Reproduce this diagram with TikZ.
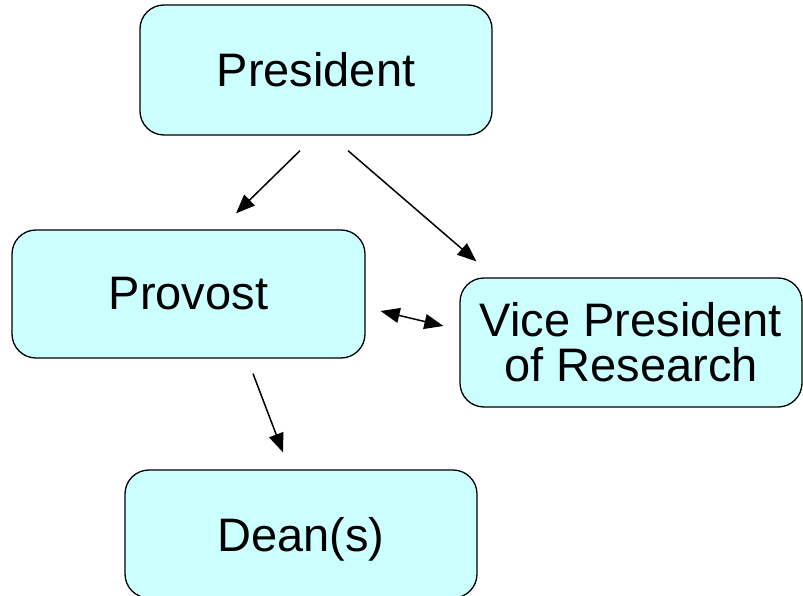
\documentclass[tikz,border=0pt]{standalone}
\usepackage{fontspec}
\setmainfont{Liberation Sans}
\usetikzlibrary{arrows.meta,calc}
\definecolor{boxfill}{HTML}{CCFFFF}
\tikzset{
  orgbox/.style={draw=black, line width=1.3pt, fill=boxfill,
    rounded corners=24pt, inner sep=0pt, align=center,
    font=\fontsize{47}{45}\selectfont},
  headtip/.tip={Triangle[length=19pt,width=15pt]},
  link/.style={line width=1.5pt, -headtip},
  twoway/.style={line width=1.5pt, headtip-headtip}
}
\begin{document}
\begin{tikzpicture}[x=1pt,y=-1pt]
  \useasboundingbox (0,0) rectangle (803,596);
  \begin{scope}
    \clip (0,0) rectangle (803,596);
    \node[orgbox, minimum width=352pt, minimum height=130pt] (pres) at (316,70) {President};
    \node[orgbox, minimum width=353pt, minimum height=128pt] (prov) at (188.5,294) {Provost};
    \node[orgbox, minimum width=342pt, minimum height=129pt] (vp) at (631,342.5) {Vice President\\of Research};
    \node[orgbox, minimum width=352pt, minimum height=128pt, text depth=0pt] (dean) at (301,534) {Dean(s)};
  \end{scope}
  % reporting lines
  \draw[link] ($(pres.south)+(-16,15)$) -- ($(prov.north)+(47.5,-16)$);
  \draw[link] ($(pres.south)+(32,15)$) -- ($(vp.north west)+(17,-16)$);
  \draw[twoway] ($(prov.east)+(15,17)$) -- ($(vp.west)+(-16,-16.5)$);
  \draw[link] ($(prov.south)+(64.5,15)$) -- ($(dean.north)+(-18,-17)$);
\end{tikzpicture}
\end{document}
